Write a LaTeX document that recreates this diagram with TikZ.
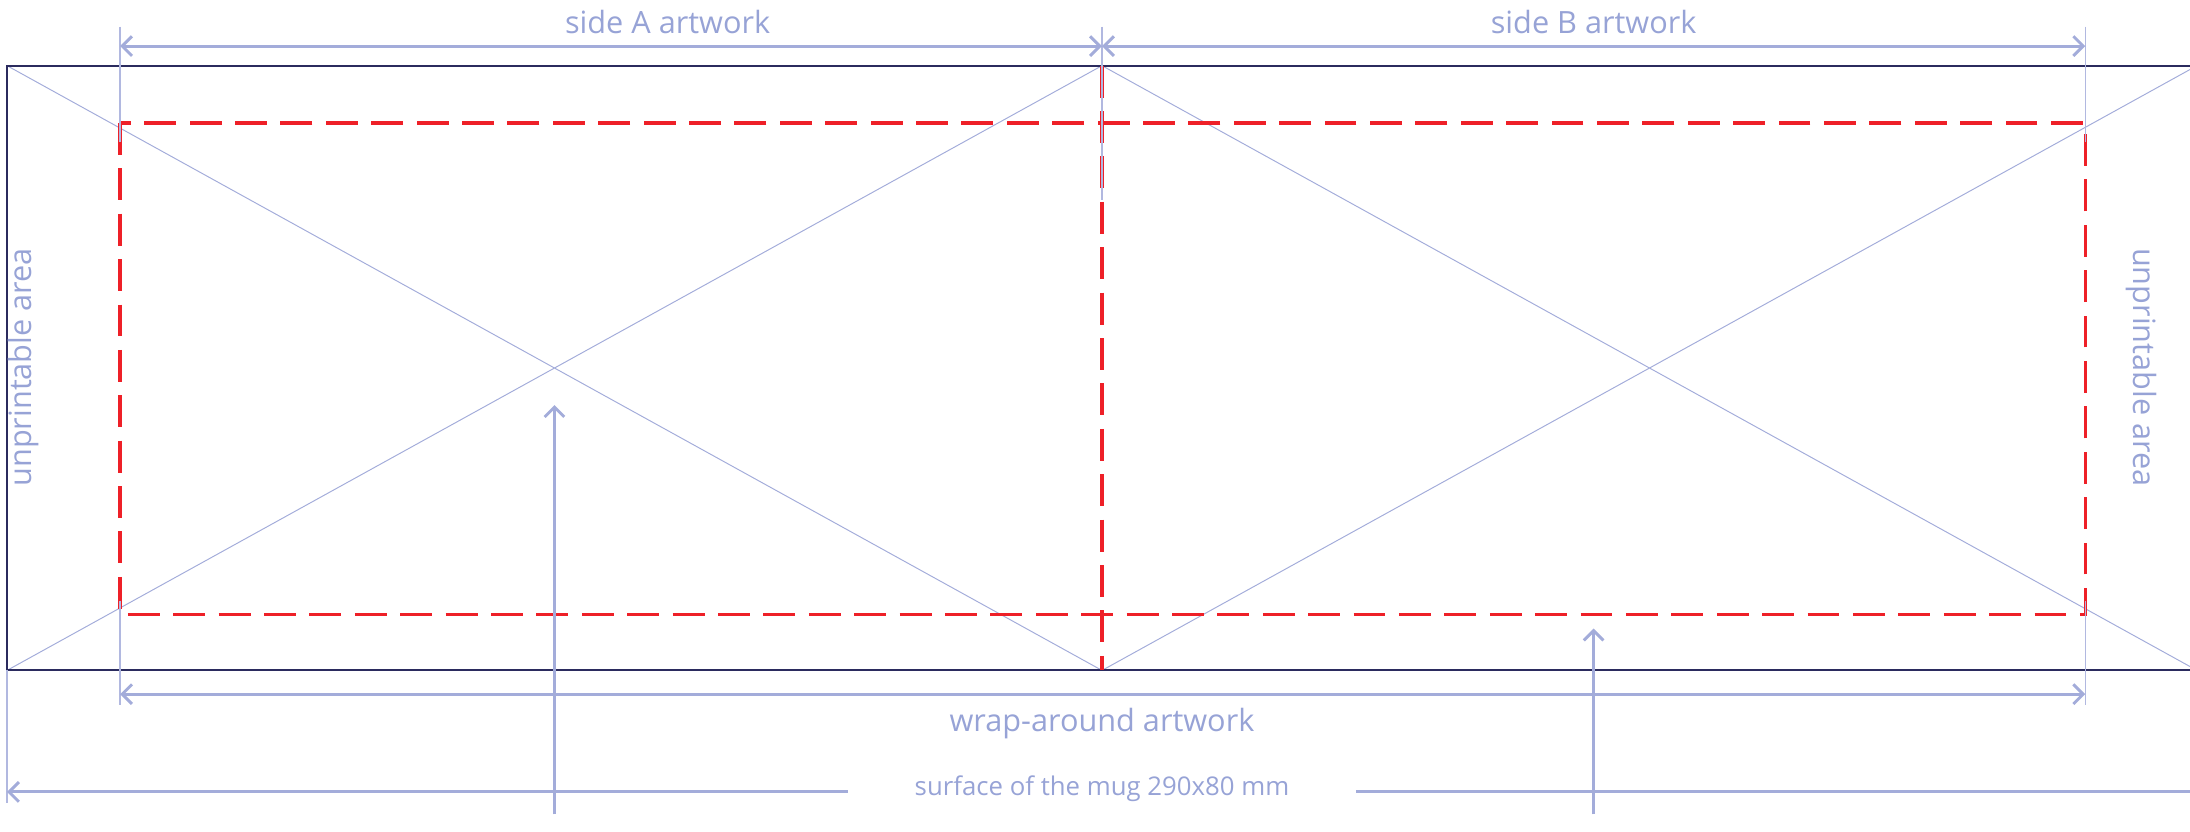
\documentclass[tikz,border=0pt]{standalone}
\usepackage{fontspec}
\setmainfont{Open Sans}
\usetikzlibrary{arrows.meta}
\definecolor{dimblue}{HTML}{A3ACDA}
\definecolor{labelblue}{HTML}{97A3D6}
\definecolor{mugline}{HTML}{2B2B5E}
\definecolor{bleedred}{HTML}{EE2028}

\begin{document}
\begin{tikzpicture}[x=0.02cm, y=-0.02cm, >={Straight Barb[length=4pt,width=8pt]},
    dimline/.style={dimblue, line width=1.2pt},
    extline/.style={dimblue!85, line width=0.6pt},
    diagline/.style={dimblue, line width=0.4pt},
    mugedge/.style={mugline, line width=0.8pt},
    safezone/.style={bleedred, line width=1.4pt, dash pattern=on 13pt off 5.5pt},
    lbl/.style={text=labelblue, inner sep=0pt, font=\fontsize{12.5}{14}\selectfont}]
        \useasboundingbox (0,0) rectangle (1568,595);

        % Mug surface corners
        \coordinate (mugTL) at (5,47);
        \coordinate (mugBL) at (5,480);
        \coordinate (mugTM) at (789,47);
        \coordinate (mugBM) at (789,480);
        \coordinate (mugTR) at (1573,47);
        \coordinate (mugBR) at (1573,480);

        % Crossed panels for side A and side B
        \draw[diagline] (mugTL) -- (mugBM) (mugBL) -- (mugTM)
            (mugTM) -- (mugBR) (mugBM) -- (mugTR);
        \draw[mugedge] (mugBL) -- (mugTL) -- (mugTR) (mugBL) -- (mugBR);

        % Printable area (red dashed)
        \coordinate (safeTL) at (86,88);
        \coordinate (safeBR) at (1493,440);
        \draw[safezone] (safeTL) rectangle (safeBR);
        \draw[safezone] (mugTM) -- (mugBM);

        % Extension lines
        \foreach \x/\name in {86/a, 789/m, 1493/b} {
            \coordinate (top\name) at (\x,19);
            \coordinate (dim\name) at (\x,33);
        }
        \draw[extline] (topa) -- (86,102) (topm) -- (789,143) (topb) -- (1493,102);
        \draw[extline] (86,430) -- (86,505) (1493,430) -- (1493,505);
        \draw[extline] (mugBL) -- (5,575);

        % Side A / side B artwork
        \draw[dimline, <->] (dima) -- (dimm);
        \draw[dimline, <->] (dimm) -- (dimb);
        \node[lbl] (sideA) at (478,16) {side A artwork};
        \node[lbl] (sideB) at (1141,16) {side B artwork};

        % Wrap-around artwork
        \coordinate (wrapL) at (86,497);
        \coordinate (wrapR) at (1493,497);
        \draw[dimline, <->] (wrapL) -- (wrapR);
        \node[lbl] (wrap) at (789,518) {wrap-around artwork};

        % Surface of the mug
        \node[lbl, font=\fontsize{10.5}{12}\selectfont, inner xsep=0.95cm] (surface) at (789,565)
            {surface of the mug 290x80 mm};
        \coordinate (surfL) at (5,567);
        \coordinate (surfR) at (1578,567);
        \draw[dimline, <-] (surfL) -- (surfL -| surface.west);
        \draw[dimline, ->] (surfR -| surface.east) -- (surfR);

        % Pointers into the panels
        \coordinate (ptrA) at (397,583);
        \coordinate (ptrB) at (1141,583);
        \draw[dimline, ->] (ptrA) -- (397,290);
        \draw[dimline, ->] (ptrB) -- (1141,450);

        % Unprintable margins
        \node[lbl, rotate=90] (leftnote) at (17,263) {unprintable area};
        \node[lbl, rotate=-90] (rightnote) at (1533,263) {unprintable area};
\end{tikzpicture}
\end{document}
